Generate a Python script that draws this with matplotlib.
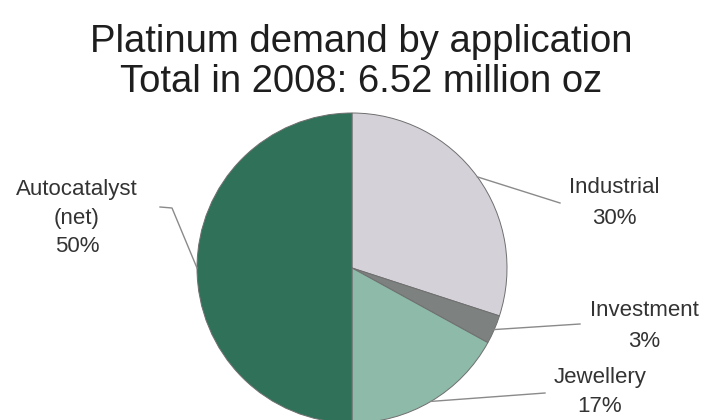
import numpy as np
import matplotlib
matplotlib.use("Agg")
import matplotlib.pyplot as plt

plt.rcParams['font.family'] = ['Liberation Sans', 'DejaVu Sans']

# data, clockwise from 12 o'clock
labels = ["Industrial", "Investment", "Jewellery", "Autocatalyst\n(net)"]
shares = [30, 3, 17, 50]
colors = ["#d5d1d9", "#7d8180", "#8dbaa9", "#2f7259"]

# label placement (pixel centre of text block, leader line end points)
text_pos = [(614, 203), (644, 326), (600, 392), (77, 218)]
line_end = [[(560, 203)], [(580, 324)], [(545, 393)], [(172, 208), (160, 207)]]
spacing = [1.65, 1.65, 1.55, 1.45]

W, H = 723, 420
cx, cy, R = 352, 268, 155

fig = plt.figure(figsize=(W / 100, H / 100), dpi=100)
ax = fig.add_axes([(cx - R) / W, (H - cy - R) / H, 2 * R / W, 2 * R / H])

wedges, _ = ax.pie(shares, colors=colors, startangle=90, counterclock=False,
                   radius=1, wedgeprops=dict(edgecolor="#6f6f6f", linewidth=0.7))
ax.set_xlim(-1, 1)
ax.set_ylim(-1, 1)
ax.axis("off")


def to_data(px, py):
    return (px - cx) / R, (cy - py) / R


for w, lab, s, tp, ends, ls in zip(wedges, labels, shares, text_pos, line_end, spacing):
    ang = np.deg2rad((w.theta1 + w.theta2) / 2)
    xs = [np.cos(ang)] + [to_data(*p)[0] for p in ends]
    ys = [np.sin(ang)] + [to_data(*p)[1] for p in ends]
    ax.plot(xs, ys, color="#8a8a8a", lw=1, clip_on=False)
    fig.text(tp[0] / W, 1 - tp[1] / H, f"{lab}\n{s}%", ha="center", va="center",
             fontsize=16, color="#333333", linespacing=ls)

fig.text(0.5, 1 - 62 / H, "Platinum demand by application\nTotal in 2008: 6.52 million oz",
         ha="center", va="center", fontsize=27.5, color="#1e1e1e", linespacing=1.15)

fig.savefig("out.png", dpi=100)
